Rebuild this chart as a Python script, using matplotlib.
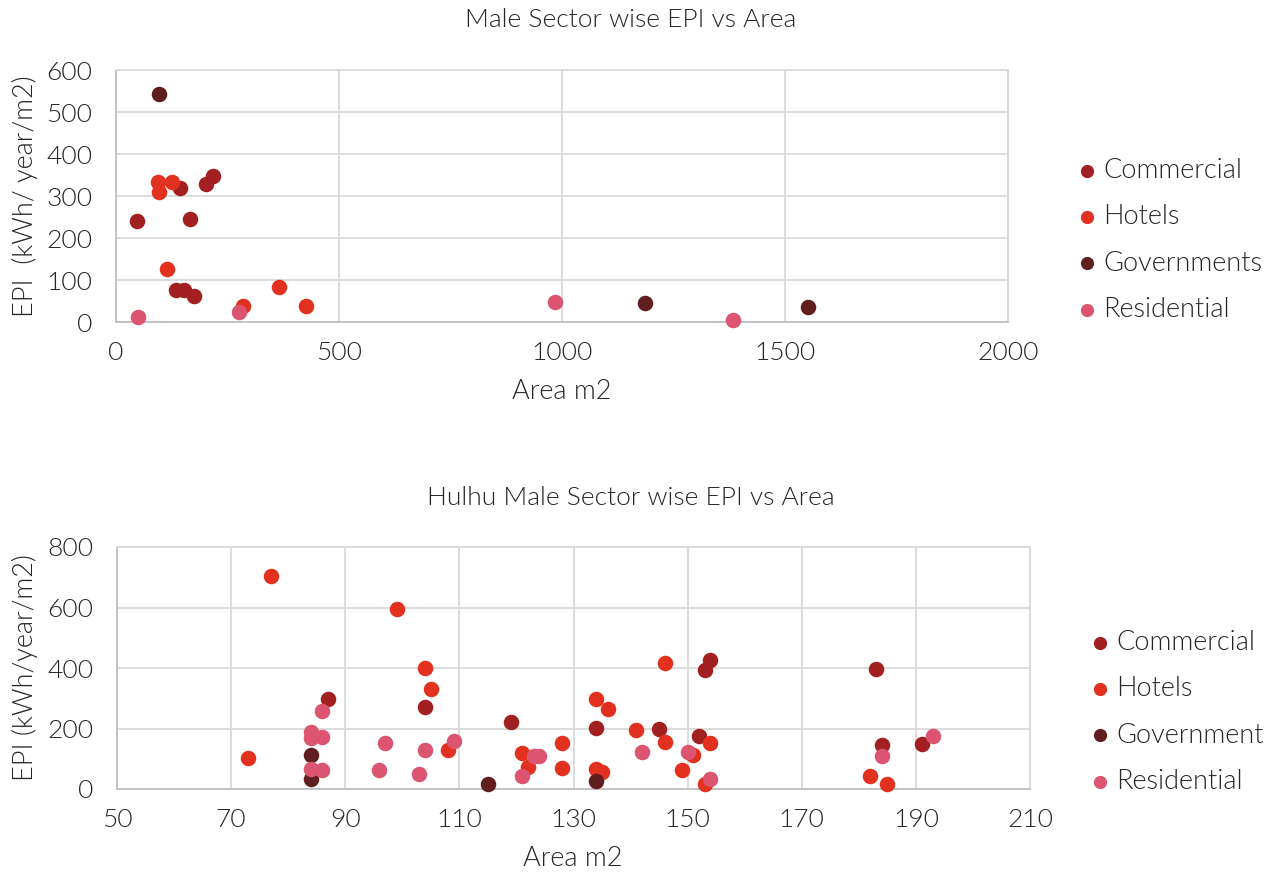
import matplotlib
matplotlib.use("Agg")
import matplotlib.pyplot as plt
from matplotlib import font_manager

# ---------------- data ----------------
male_com_x = [143, 217, 202, 46, 165, 134, 152, 176]
male_com_y = [319, 348, 329, 241, 246, 77, 77, 63]
male_hot_x = [95, 126, 96, 114, 365, 285, 426]
male_hot_y = [333, 333, 309, 126, 84, 37, 39]
male_gov_x = [96, 1187, 1551]
male_gov_y = [542, 45, 35]
male_res_x = [49, 276, 984, 1384]
male_res_y = [12, 24, 48, 5]

hul_com_x = [87, 104, 119, 134, 145, 152, 154, 153, 183, 184, 191]
hul_com_y = [296, 270, 221, 201, 197, 175, 428, 392, 397, 144, 150]
hul_hot_x = [77, 99, 73, 104, 105, 108, 121, 122, 128, 128, 134, 136, 134, 135,
             141, 146, 146, 149, 151, 154, 153, 182, 185]
hul_hot_y = [704, 595, 101, 400, 330, 128, 120, 72, 152, 70, 297, 266, 65, 55,
             194, 156, 417, 62, 111, 152, 16, 44, 15]
hul_gov_x = [84, 84, 115, 134]
hul_gov_y = [111, 32, 18, 26]
hul_res_x = [86, 84, 84, 86, 84, 86, 97, 96, 103, 104, 109, 121, 123, 124,
             142, 150, 154, 184, 193]
hul_res_y = [257, 190, 170, 172, 67, 64, 151, 63, 50, 129, 158, 43, 108, 108,
             121, 123, 33, 109, 174]

top_labels = ["Commercial", "Hotels", "Governments", "Residential"]
bot_labels = ["Commercial", "Hotels", "Government", "Residential"]
colors = ["#A21F22", "#E2311E", "#601F1E", "#DB5570"]

# ---------------- style ----------------
fams = [f.name for f in font_manager.fontManager.ttflist]
family = "Lato" if "Lato" in fams else "DejaVu Sans"
weights = sorted({f.weight for f in font_manager.fontManager.ttflist if f.name == family})
WT = 300 if 300 in weights else "normal"
plt.rcParams["font.family"] = [family, "DejaVu Sans"]
plt.rcParams["font.weight"] = WT
txt = "#262626"

W, H = 1277, 875
fig = plt.figure(figsize=(W / 100, H / 100), dpi=100)


def ax_at(l, t, r, b):
    return fig.add_axes([l / W, 1 - b / H, (r - l) / W, (b - t) / H])


def ftext(x, y, s, **kw):
    fig.text(x / W, 1 - y / H, s, ha="center", va="center", color=txt,
             fontweight=WT, **kw)


def style(ax, xlim, ylim, xt, yt):
    ax.set_xlim(*xlim)
    ax.set_ylim(*ylim)
    ax.set_xticks(xt)
    ax.set_yticks(yt)
    ax.grid(True, color="#D9D9D9", linewidth=1.3)
    ax.set_axisbelow(True)
    for s in ["top", "right"]:
        ax.spines[s].set_color("#D9D9D9")
        ax.spines[s].set_linewidth(1.3)
    for s in ["left", "bottom"]:
        ax.spines[s].set_color("#BFBFBF")
        ax.spines[s].set_linewidth(1.3)
    ax.tick_params(length=0, labelsize=19, colors=txt)
    ax.tick_params(axis="y", pad=17)
    ax.tick_params(axis="x", pad=14)


ms = 125
leg_kw = dict(frameon=False, fontsize=19.5, labelcolor=txt, handlelength=0.5,
              handletextpad=0.35, labelspacing=0.78, markerscale=0.85,
              borderaxespad=0, borderpad=0, loc="center left",
              bbox_transform=fig.transFigure)

# top
ax1 = ax_at(116, 70, 1008, 322)
for xs, ys, c, lab in zip([male_com_x, male_hot_x, male_gov_x, male_res_x],
                          [male_com_y, male_hot_y, male_gov_y, male_res_y],
                          colors, top_labels):
    ax1.scatter(xs, ys, s=ms, color=c, label=lab, linewidths=0, clip_on=False, zorder=3)
style(ax1, (0, 2000), (0, 600), range(0, 2001, 500), range(0, 601, 100))
ftext(631, 20, "Male Sector wise EPI vs Area", fontsize=19)
ftext(562, 392, "Area m2", fontsize=19.5)
ftext(25, 196, "EPI  (kWh/ year/m2)", fontsize=19.5, rotation=90)
ax1.legend(bbox_to_anchor=(1080 / W, 1 - 240 / H), **leg_kw)

# bottom
ax2 = ax_at(117, 547, 1030, 789)
for xs, ys, c, lab in zip([hul_com_x, hul_hot_x, hul_gov_x, hul_res_x],
                          [hul_com_y, hul_hot_y, hul_gov_y, hul_res_y],
                          colors, bot_labels):
    ax2.scatter(xs, ys, s=ms, color=c, label=lab, linewidths=0, clip_on=False, zorder=3)
style(ax2, (50, 210), (0, 800), range(50, 211, 20), range(0, 801, 200))
ftext(631, 498, "Hulhu Male Sector wise EPI vs Area", fontsize=19)
ftext(573, 858, "Area m2", fontsize=19.5)
ftext(25, 668, "EPI (kWh/year/m2)", fontsize=19.5, rotation=90)
ax2.legend(bbox_to_anchor=(1093 / W, 1 - 712 / H), **leg_kw)

fig.savefig("out.png", dpi=100, facecolor="white")
